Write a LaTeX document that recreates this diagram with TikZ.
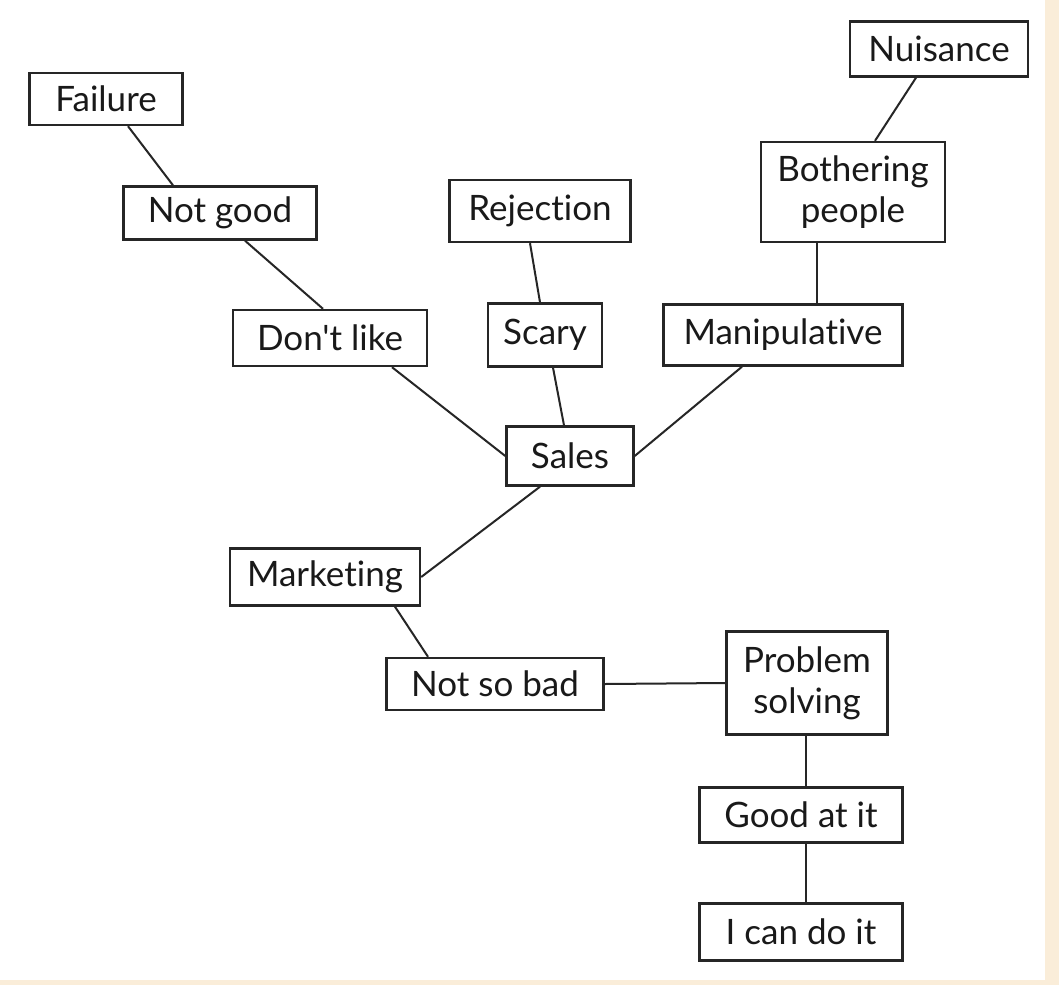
\documentclass[tikz,border=0pt]{standalone}
\usepackage{fontspec}
\setmainfont{Lato}[Ligatures={NoCommon,TeXOff}]
\definecolor{beige}{RGB}{250,237,217}
\begin{document}
\begin{tikzpicture}[x=0.5pt,y=-0.5pt,
  box/.style={draw=black!85,line width=1.2pt,fill=white,inner sep=0pt,align=center,
    font=\fontsize{17.5}{20.5}\selectfont,text=black!90},
  link/.style={draw=black!85,line width=1pt}]
\fill[beige] (0,0) rectangle (1059,985);
\fill[white] (0,0) rectangle (1045,980);
\useasboundingbox (0,0) rectangle (1059,985);
\node[box,minimum width=76.5pt,minimum height=26pt] (failure) at (106,99) {Failure};
\node[box,minimum width=96.5pt,minimum height=26.5pt] (notgood) at (220,213) {Not good};
\node[box,minimum width=90.5pt,minimum height=31pt] (rejection) at (540,211) {Rejection};
\node[box,minimum width=89pt,minimum height=27.5pt] (nuisance) at (939,49) {Nuisance};
\node[box,minimum width=92pt,minimum height=50pt] (bother) at (853,192) {Bothering\\people};
\node[box,minimum width=97pt,minimum height=28pt] (dontlike) at (330,338) {Don't like};
\node[box,minimum width=57pt,minimum height=31.5pt] (scary) at (545,335) {Scary};
\node[box,minimum width=119.5pt,minimum height=30.5pt] (manip) at (783,335) {Manipulative};
\node[box,minimum width=63.5pt,minimum height=29.5pt] (sales) at (570,456) {Sales};
\node[box,minimum width=95pt,minimum height=28.5pt] (marketing) at (325,577) {Marketing};
\node[box,minimum width=108.5pt,minimum height=26pt] (notsobad) at (495,684) {Not so bad};
\node[box,minimum width=80.5pt,minimum height=51.5pt] (problem) at (807,683) {Problem\\solving};
\node[box,minimum width=101.5pt,minimum height=27.5pt] (goodat) at (801,815) {Good at it};
\node[box,minimum width=101.5pt,minimum height=28.5pt] (icando) at (801,932) {I can do it};
\draw[link] ([xshift=11pt]failure.south) -- ([xshift=-23.5pt]notgood.north);
\draw[link] ([xshift=12.5pt]notgood.south) -- ([xshift=-3.5pt]dontlike.north);
\draw[link] ([xshift=-5pt]rejection.south) -- ([xshift=-2.5pt]scary.north);
\draw[link] ([xshift=-11.5pt]nuisance.south) -- ([xshift=11pt]bother.north);
\draw[link] ([xshift=-18pt]bother.south) -- ([xshift=17pt]manip.north);
\draw[link] ([xshift=31pt]dontlike.south) -- (sales.west);
\draw[link] ([xshift=4pt]scary.south) -- ([xshift=-3pt]sales.north);
\draw[link] ([xshift=-20.5pt]manip.south) -- (sales.east);
\draw[link] ([xshift=-15pt]sales.south) -- (marketing.east);
\draw[link] ([xshift=35pt]marketing.south) -- ([xshift=-33.5pt]notsobad.north);
\draw[link] (notsobad.east) -- (problem.west);
\draw[link] ([xshift=-0.5pt]problem.south) -- ([xshift=2.5pt]goodat.north);
\draw[link] ([xshift=2.5pt]goodat.south) -- ([xshift=2.5pt]icando.north);
\end{tikzpicture}
\end{document}
